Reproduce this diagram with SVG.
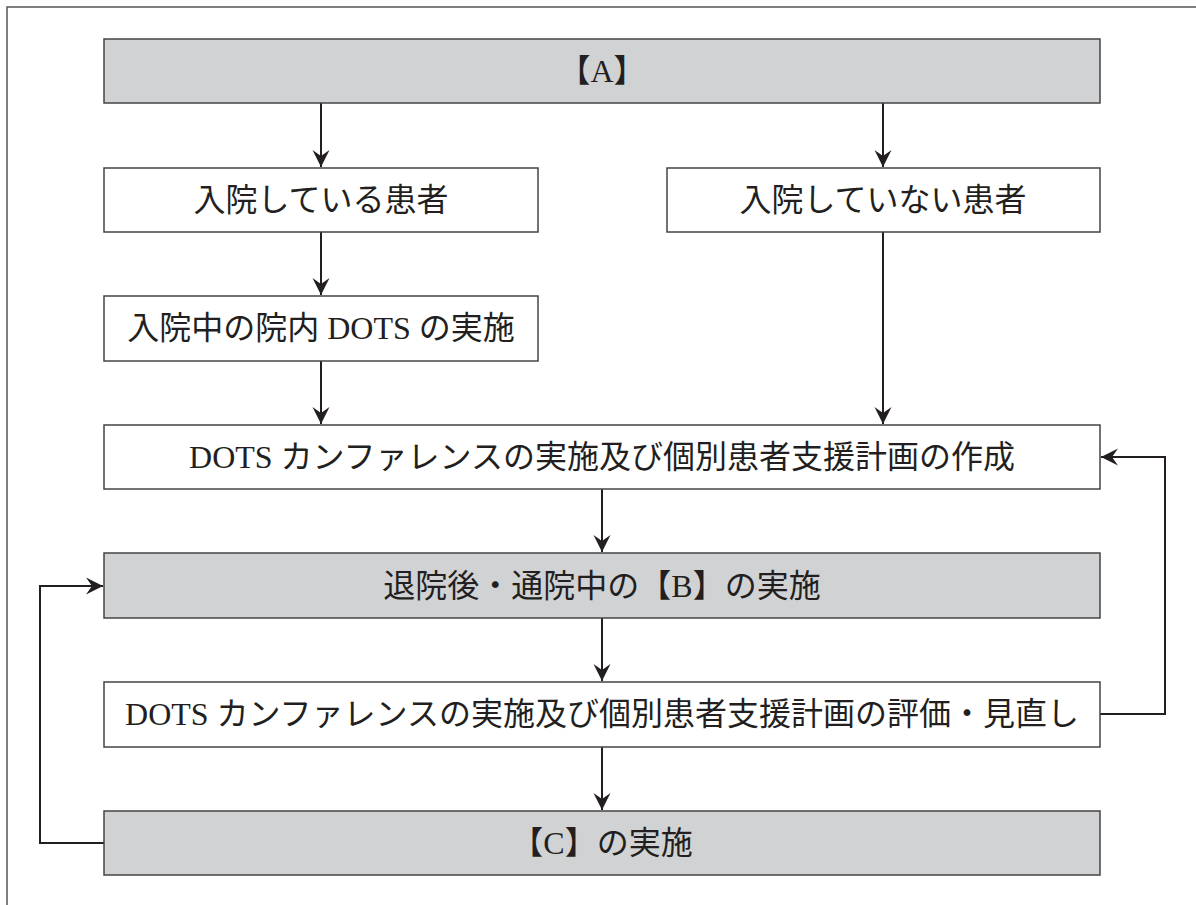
<svg xmlns="http://www.w3.org/2000/svg" width="1196" height="905" viewBox="0 0 1196 905">
<style>
.box{stroke:#444;stroke-width:1.5;}
.g{fill:#d1d2d4;}
.w{fill:#fff;}
.t{font-family:"Liberation Serif","Noto Sans CJK JP",serif;font-size:32px;fill:#231f20;text-anchor:middle;dominant-baseline:central;}
.c{fill:none;stroke:#231f20;stroke-width:2;marker-end:url(#arr);}
.frame{fill:none;stroke:#555;stroke-width:1.5;}
</style>
<defs>
<marker id="arr" viewBox="-18 -9 19 18" refX="0" refY="0" markerWidth="19" markerHeight="18" markerUnits="userSpaceOnUse" orient="auto">
<path d="M0,0 L-17,-8.5 L-11,0 L-17,8.5 Z" fill="#231f20"/>
</marker>
</defs>
<rect width="1196" height="905" fill="#fff"/>
<path class="frame" d="M7,905 L7,7 L1196,7"/>
<g id="connectors">
<path class="c" d="M321,103 L321,167"/>
<path class="c" d="M883,103 L883,167"/>
<path class="c" d="M321,232 L321,295"/>
<path class="c" d="M321,361 L321,424"/>
<path class="c" d="M883,232 L883,424"/>
<path class="c" d="M602,489 L602,552"/>
<path class="c" d="M602,618 L602,681"/>
<path class="c" d="M602,747 L602,810"/>
<path class="c" d="M1100,714 L1165,714 L1165,457 L1101,457"/>
<path class="c" d="M104,843 L40,843 L40,586 L103,586"/>
</g>
<g id="nodeA">
<rect class="box g" x="104" y="39" width="996" height="64"/>
<text class="t" x="602" y="71">【A】</text>
</g>
<g id="inpatient">
<rect class="box w" x="104" y="168" width="434" height="64"/>
<text class="t" x="321" y="200">入院している患者</text>
</g>
<g id="outpatient">
<rect class="box w" x="667" y="168" width="433" height="64"/>
<text class="t" x="883" y="200">入院していない患者</text>
</g>
<g id="hospitalDots">
<rect class="box w" x="104" y="296" width="434" height="65"/>
<text class="t" x="321" y="328">入院中の院内 DOTS の実施</text>
</g>
<g id="conference">
<rect class="box w" x="104" y="425" width="996" height="64"/>
<text class="t" x="602" y="457">DOTS カンファレンスの実施及び個別患者支援計画の作成</text>
</g>
<g id="nodeB">
<rect class="box g" x="104" y="553" width="996" height="65"/>
<text class="t" x="602" y="586">退院後・通院中の【B】の実施</text>
</g>
<g id="review">
<rect class="box w" x="104" y="682" width="996" height="65"/>
<text class="t" x="602" y="714">DOTS カンファレンスの実施及び個別患者支援計画の評価・見直し</text>
</g>
<g id="nodeC">
<rect class="box g" x="104" y="811" width="996" height="64"/>
<text class="t" x="602" y="843">【C】の実施</text>
</g>
</svg>
